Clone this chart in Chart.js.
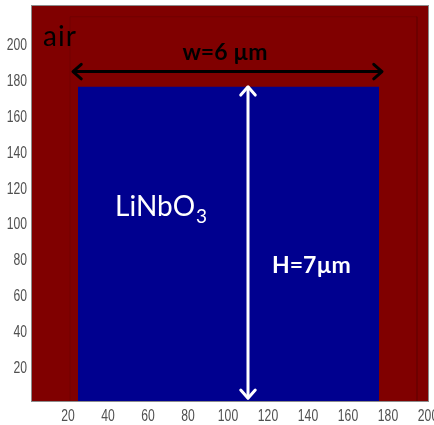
<!DOCTYPE html>
<html lang="en">
<head>
<meta charset="utf-8" />
<title>LiNbO3 ridge cross-section</title>
<style>
  html, body { margin: 0; padding: 0; background: #fff; }
  #wrap { width: 434px; height: 425px; }
</style>
</head>
<body>
<div id="wrap"><canvas id="guide" width="434" height="425"></canvas></div>
<script src="https://cdn.jsdelivr.net/npm/chart.js"></script>
<script>
  // simulation window (grid cells)
  const xRange = [2, 200];
  const yRange = [2, 222];
  const xTicks = [20, 40, 60, 80, 100, 120, 140, 160, 180, 200];
  const yTicks = [20, 40, 60, 80, 100, 120, 140, 160, 180, 200];

  // LiNbO3 core: side walls and top face
  const coreX = [25, 175.5];
  const coreTop = 177;

  // faint outline of the air box
  const boxX = [21, 194.5];
  const boxTop = 216;

  // dimension arrows
  const widthArrowX = [22.5, 177];
  const widthArrowY = 185.5;
  const heightArrowX = 110;
  const heightArrowY = [3.5, 177];

  const AIR = '#800000';
  const CORE = '#00008f';

  const flat = { pointRadius: 0, showLine: true, tension: 0 };

  // arrowheads on both ends of the dimension lines
  const arrowHeads = {
    id: 'arrowHeads',
    afterDatasetsDraw(chart) {
      const { ctx } = chart;
      chart.data.datasets.forEach((ds, i) => {
        if (!ds.arrow) return;
        const pts = chart.getDatasetMeta(i).data;
        const a = pts[0], b = pts[pts.length - 1];
        const ang = Math.atan2(b.y - a.y, b.x - a.x);
        const len = 11, spread = 0.72;
        ctx.save();
        ctx.strokeStyle = ds.borderColor;
        ctx.lineWidth = ds.borderWidth;
        ctx.lineCap = 'round';
        ctx.lineJoin = 'round';
        [[b, ang], [a, ang + Math.PI]].forEach(([p, t]) => {
          ctx.beginPath();
          ctx.moveTo(p.x - len * Math.cos(t - spread), p.y - len * Math.sin(t - spread));
          ctx.lineTo(p.x, p.y);
          ctx.lineTo(p.x - len * Math.cos(t + spread), p.y - len * Math.sin(t + spread));
          ctx.stroke();
        });
        ctx.restore();
      });
    }
  };

  // region and dimension labels, placed in data coordinates
  const notes = [
    { text: 'air', x: 7.5, y: 199.5, font: '400 28px Lato', spacing: '1px', color: '#000', align: 'left', base: 'alphabetic' },
    { text: 'w=6 \u00b5m', x: 98.5, y: 196, font: '700 23px Lato', color: '#000', align: 'center', base: 'middle' },
    { text: 'LiNbO', sub: '3', x: 43.5, y: 105, font: '400 28px Lato', subFont: '400 19px Lato', color: '#fff', align: 'left', base: 'alphabetic' },
    { text: 'H=7\u00b5m', x: 122, y: 77.5, font: '700 23px Lato', color: '#fff', align: 'left', base: 'middle' }
  ];

  const labelText = {
    id: 'labelText',
    afterDatasetsDraw(chart) {
      const { ctx, scales: { x, y }, chartArea: ca } = chart;
      ctx.save();
      notes.forEach(n => {
        const px = x.getPixelForValue(n.x);
        const py = y.getPixelForValue(n.y);
        ctx.font = n.font;
        ctx.letterSpacing = n.spacing || '0px';
        ctx.fillStyle = n.color;
        ctx.textAlign = n.align;
        ctx.textBaseline = n.base;
        ctx.fillText(n.text, px, py);
        if (n.sub) {
          const w = ctx.measureText(n.text).width;
          ctx.font = n.subFont;
          ctx.textAlign = 'left';
          ctx.fillText(n.sub, px + w + 1, py + 7);
        }
      });
      ctx.letterSpacing = '0px';
      // axes frame
      ctx.strokeStyle = '#8c8c8c';
      ctx.lineWidth = 1;
      ctx.strokeRect(ca.left - 0.5, ca.top - 0.5, ca.right - ca.left + 1, ca.bottom - ca.top + 1);
      ctx.restore();
    }
  };

  // narrow tick numbers, squeezed horizontally
  const SQUEEZE = 0.76;
  const narrowTicks = {
    id: 'narrowTicks',
    afterDraw(chart) {
      const { ctx, scales: { x, y }, chartArea: ca } = chart;
      ctx.save();
      ctx.font = '16px "Liberation Sans", Arial, sans-serif';
      ctx.fillStyle = '#505050';
      ctx.textBaseline = 'middle';
      ctx.textAlign = 'center';
      x.ticks.forEach(t => {
        const px = x.getPixelForValue(t.value);
        ctx.save();
        ctx.translate(px, ca.bottom + 16);
        ctx.scale(SQUEEZE, 1);
        ctx.fillText(String(t.value), 0, 0);
        ctx.restore();
      });
      ctx.textAlign = 'right';
      y.ticks.forEach(t => {
        const py = y.getPixelForValue(t.value);
        ctx.save();
        ctx.translate(ca.left - 5, py);
        ctx.scale(SQUEEZE, 1);
        ctx.fillText(String(t.value), 0, 0);
        ctx.restore();
      });
      ctx.restore();
    }
  };

  new Chart(document.getElementById('guide'), {
    type: 'scatter',
    data: {
      datasets: [
        {
          label: 'air', order: 5, ...flat,
          data: [{ x: xRange[0], y: yRange[1] }, { x: xRange[1], y: yRange[1] }],
          borderWidth: 0, backgroundColor: AIR, fill: 'start'
        },
        {
          label: 'box', order: 4, ...flat,
          data: [
            { x: boxX[0], y: yRange[0] }, { x: boxX[0], y: boxTop },
            { x: boxX[1], y: boxTop }, { x: boxX[1], y: yRange[0] }
          ],
          borderWidth: 1, borderColor: 'rgba(90,0,0,0.35)', fill: false
        },
        {
          label: 'LiNbO3', order: 3, ...flat,
          data: [{ x: coreX[0], y: coreTop }, { x: coreX[1], y: coreTop }],
          borderWidth: 0, backgroundColor: CORE, fill: 'start'
        },
        {
          label: 'w', order: 1, ...flat, arrow: true,
          data: [{ x: widthArrowX[0], y: widthArrowY }, { x: widthArrowX[1], y: widthArrowY }],
          borderWidth: 3, borderColor: '#000', fill: false
        },
        {
          label: 'H', order: 1, ...flat, arrow: true,
          data: [{ x: heightArrowX, y: heightArrowY[0] }, { x: heightArrowX, y: heightArrowY[1] }],
          borderWidth: 3, borderColor: '#fff', fill: false
        }
      ]
    },
    options: {
      responsive: false,
      animation: false,
      layout: { padding: { top: 6, right: 6, left: 0, bottom: 0 } },
      plugins: { legend: { display: false }, tooltip: { enabled: false } },
      scales: {
        x: {
          type: 'linear', min: xRange[0], max: xRange[1],
          grid: { display: false, drawTicks: false },
          border: { display: false },
          ticks: { display: false },
          afterBuildTicks: s => { s.ticks = xTicks.map(v => ({ value: v })); },
          afterFit: s => { s.height = 24; s.paddingLeft = 0; s.paddingRight = 0; }
        },
        y: {
          type: 'linear', min: yRange[0], max: yRange[1],
          grid: { display: false, drawTicks: false },
          border: { display: false },
          ticks: { display: false },
          afterBuildTicks: s => { s.ticks = yTicks.map(v => ({ value: v })); },
          afterFit: s => { s.width = 32; s.paddingTop = 0; s.paddingBottom = 0; }
        }
      }
    },
    plugins: [arrowHeads, labelText, narrowTicks]
  });
</script>
</body>
</html>
